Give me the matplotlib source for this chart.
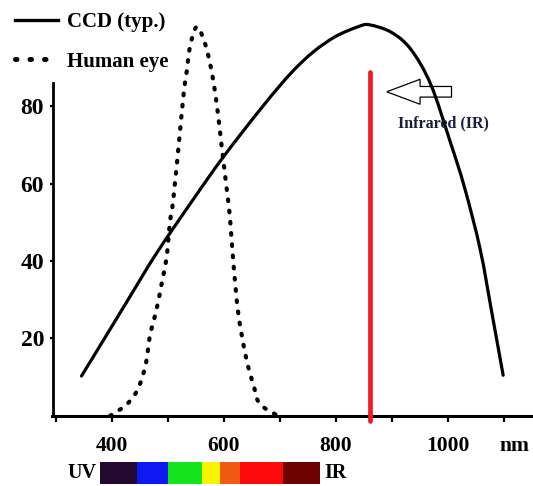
import matplotlib
matplotlib.use("Agg")
import numpy as np
import matplotlib.pyplot as plt
import matplotlib.patches as mpatches
from matplotlib.lines import Line2D
from matplotlib.path import Path
from matplotlib.transforms import ScaledTranslation

# ---------------- data ----------------
ccd_nm = [346, 385, 430, 480, 546, 600, 670, 720, 760, 800, 840, 860, 900, 935, 970, 1004, 1030, 1058, 1079, 1099]
ccd_val = [10.3, 19.5, 30.2, 42.0, 56.0, 67.0, 80.0, 88.5, 94.0, 98.0, 100.5, 101.0, 99.0, 94.5, 85.5, 71.0, 59.0, 43.0, 26.5, 10.5]

eye_nm = [397, 427, 447, 461, 468, 480, 489, 498, 504, 510, 523, 529, 534, 540, 552,
          567, 579, 588, 596, 605, 611, 617, 626, 640, 655, 665, 697]
eye_val = [0, 3, 7, 13.5, 20.5, 27.5, 34, 41, 50, 56, 75, 84, 89, 95.5, 100.5,
           96, 88.5, 80, 70, 59, 51.5, 40, 26.5, 15, 7, 3, 0]

ir_marker_nm = 861
ir_marker_top = 88.8

xticks = [300, 400, 500, 600, 700, 800, 900, 1000, 1100]
xtick_labels = ["", "400", "", "600", "", "800", "", "1000", "nm"]
yticks = [20, 40, 60, 80]

spectrum_edges = [379, 445, 500, 561, 593, 629, 706, 772]
spectrum_colors = ["#240a30", "#0d18f2", "#14e41e", "#f6f600", "#f05a12", "#fa0a0a", "#6e0000"]

legend_labels = ["CCD (typ.)", "Human eye"]


def smooth_path(xs, ys):
    """Catmull-Rom through the given points, expressed as cubic Bezier path."""
    p = np.column_stack([xs, ys]).astype(float)
    ext = np.vstack([p[0] - (p[1] - p[0]), p, p[-1] + (p[-1] - p[-2])])
    verts = [p[0]]
    codes = [Path.MOVETO]
    for i in range(1, len(ext) - 2):
        p0, p1, p2, p3 = ext[i - 1], ext[i], ext[i + 1], ext[i + 2]
        c1 = p1 + (p2 - p0) / 6.0
        c2 = p2 - (p3 - p1) / 6.0
        verts += [c1, c2, p2]
        codes += [Path.CURVE4] * 3
    return Path(verts, codes)


# ---------------- figure ----------------
fig = plt.figure(figsize=(5.33, 4.86), dpi=100)
ax = fig.add_axes([0, 0, 1, 1])
ax.set_xlim(200.5, 1152.3)
ax.set_ylim(-18.1, 107.4)
ax.patch.set_alpha(0)

serif = "Liberation Serif"

for s in ["top", "right"]:
    ax.spines[s].set_visible(False)
ax.spines["left"].set_position(("data", 295.5))
ax.spines["left"].set_bounds(0, 86)
ax.spines["left"].set_linewidth(2.0)
ax.spines["bottom"].set_position(("data", 0))
ax.spines["bottom"].set_bounds(293, 1152.3)
ax.spines["bottom"].set_linewidth(2.2)

ax.set_xticks(xticks)
ax.set_xticklabels(xtick_labels, fontfamily=serif, fontweight="bold", fontsize=15.5)
ax.set_yticks(yticks)
ax.set_yticklabels([str(v) for v in yticks], fontfamily=serif, fontweight="bold", fontsize=17)
ax.tick_params(axis="x", direction="out", length=4.5, width=1.6, pad=10)
ax.tick_params(axis="y", direction="out", length=2.5, width=1.6, pad=4)

for lab in ax.get_xticklabels():
    if lab.get_text() == "nm":
        lab.set_transform(lab.get_transform() + ScaledTranslation(0.11, 0, fig.dpi_scale_trans))

# curves
ax.add_patch(mpatches.PathPatch(smooth_path(ccd_nm, ccd_val), facecolor="none",
                                edgecolor="black", lw=2.3, capstyle="round", zorder=3))
ax.add_patch(mpatches.PathPatch(smooth_path(eye_nm, eye_val), facecolor="none",
                                edgecolor="black", lw=3.0, linestyle=(0, (0.4, 2.3)),
                                capstyle="round", zorder=3))

# red IR marker
ax.plot([ir_marker_nm, ir_marker_nm], [-1.2, ir_marker_top], color="#ee1c25", lw=3.4,
        solid_capstyle="round", zorder=4)

# outline arrow
arrow = mpatches.FancyArrow(1006.8, 83.7, -115.7, 0, width=2.74, head_width=6.46,
                            head_length=59.5, length_includes_head=True,
                            facecolor="white", edgecolor="black", lw=0.9, zorder=2)
ax.add_patch(arrow)
ax.text(911, 75.5, "Infrared (IR)", fontfamily=serif, fontweight="bold", fontsize=11.5,
        color="#1b1b3a", ha="left", va="center", zorder=5)

# spectrum bar
for i, c in enumerate(spectrum_colors):
    ax.bar(spectrum_edges[i], height=5.8, width=spectrum_edges[i + 1] - spectrum_edges[i],
           bottom=-17.7, align="edge", color=c, edgecolor="none", zorder=2)
ax.text(spectrum_edges[0] - 6, -14.8, "UV", fontfamily=serif, fontweight="bold", fontsize=14.5,
        ha="right", va="center")
ax.text(spectrum_edges[-1] + 8, -14.8, "IR", fontfamily=serif, fontweight="bold", fontsize=14.5,
        ha="left", va="center")

# legend
handles = [Line2D([], [], color="black", lw=2.4),
           Line2D([], [], color="black", lw=3.6, linestyle=(0, (0.3, 2.6)), dash_capstyle="round")]
leg = ax.legend(handles, legend_labels, loc="upper left",
                bbox_to_anchor=(15 / 533, 1 - 12 / 486), bbox_transform=fig.transFigure,
                frameon=False, borderpad=0, borderaxespad=0, handlelength=2.05,
                handletextpad=0.45, labelspacing=0.95,
                prop={"family": serif, "weight": "bold", "size": 15})

fig.savefig("out.png", dpi=100)
